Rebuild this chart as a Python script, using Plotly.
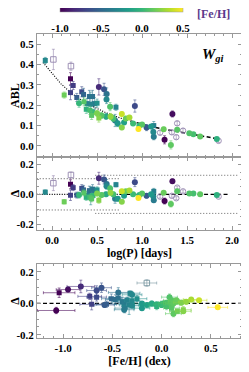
import plotly.graph_objects as go
from plotly.colors import sample_colorscale

# ---------------- data ----------------
logP = [-0.075, 0.205, 0.235, 0.205, 0.135, 0.275, 0.33, 0.35, 0.415, 0.45,
        0.39, 0.43, 0.47, 0.355, 0.42, 0.52, 0.71, 0.52, 0.578, 0.607,
        0.605, 0.645, 0.70, 0.92, 1.337, 1.25, 1.32, 0.775, 0.775, 0.96,
        1.05, 1.13, 1.13, 1.125, 1.24, 1.39, 1.525, 1.57, 1.645, 1.83,
        0.45, 0.50, 0.55, 0.60, 0.65, 0.68, 0.82, 0.86, 0.73, 0.97,
        1.00, 0.80, 0.44, 0.50, 0.38, 0.30, 1.10, 0.90]
abl = [0.42, 0.33, 0.297, 0.262, 0.25, 0.238, 0.266, 0.253, 0.243, 0.243,
       0.208, 0.205, 0.208, 0.217, 0.175, 0.137, 0.19, 0.29, 0.278, 0.255,
       0.228, 0.193, 0.125, 0.196, 0.157, 0.03, 0.005, 0.157, 0.09, 0.083,
       0.09, 0.10, 0.045, 0.068, 0.082, 0.08, 0.062, 0.057, 0.046, 0.034,
       0.165, 0.16, 0.15, 0.145, 0.145, 0.135, 0.135, 0.14, 0.11, 0.10,
       0.105, 0.115, 0.15, 0.21, 0.18, 0.21, 0.095, 0.11]
abl_err = [0.015, 0.03, 0.02, 0.035, 0.015, 0.02, 0.025, 0.03, 0.03, 0.03,
           0.025, 0.06, 0.03, 0.02, 0.02, 0.02, 0.015, 0.04, 0.03, 0.03,
           0.02, 0.02, 0.03, 0.03, 0.015, 0.02, 0.02, 0.01, 0.01, 0.01,
           0.015, 0.02, 0.015, 0.01, 0.01, 0.01, 0.008, 0.008, 0.008, 0.008,
           0.015, 0.015, 0.015, 0.015, 0.015, 0.015, 0.01, 0.01, 0.015, 0.01,
           0.01, 0.01, 0.02, 0.02, 0.02, 0.02, 0.01, 0.01]
delta = [0.015, 0.068, 0.045, -0.006, -0.05, -0.005, 0.04, 0.03, 0.025, 0.035,
         -0.005, -0.01, 0.01, 0.01, -0.02, -0.04, 0.065, 0.108, 0.10, 0.07,
         0.055, 0.04, -0.03, 0.082, 0.088, -0.045, -0.065, 0.02, -0.05, -0.025,
         -0.01, 0.02, -0.04, -0.015, 0.01, 0.02, 0.005, 0.005, 0.0, -0.005,
         -0.01, 0.005, -0.005, 0.0, 0.01, 0.0, 0.02, 0.025, -0.03, -0.005,
         0.005, -0.01, -0.03, 0.03, -0.02, -0.005, 0.0, 0.0]
feh = [-0.30, -1.04, -0.73, -0.71, 0.16, -0.56, -0.66, -0.51, -0.47, -0.44,
       -0.38, -0.33, -0.40, 0.10, 0.05, 0.22, -0.32, -0.82, -0.61, -0.44,
       -0.30, 0.08, -0.374, -0.66, -0.95, -1.07, 0.12, 0.38, 0.22, 0.57,
       -0.58, -0.35, -0.38, -0.30, 0.15, 0.10, 0.08, 0.05, 0.12, -0.05,
       0.00, 0.20, 0.10, -0.10, 0.25, 0.05, 0.15, 0.30, -0.20, 0.00,
       0.10, -0.15, 0.10, -0.25, -0.05, 0.00, -0.20, 0.02]
feh_err = [0.08, 0.16, 0.12, 0.12, 0.08, 0.1, 0.1, 0.1, 0.1, 0.1,
           0.1, 0.1, 0.1, 0.08, 0.08, 0.08, 0.1, 0.14, 0.1, 0.1,
           0.1, 0.08, 0.1, 0.1, 0.12, 0.19, 0.08, 0.08, 0.08, 0.1,
           0.1, 0.1, 0.1, 0.1, 0.08, 0.08, 0.08, 0.08, 0.08, 0.08,
           0.08, 0.08, 0.08, 0.08, 0.08, 0.08, 0.08, 0.08, 0.08, 0.08,
           0.08, 0.08, 0.08, 0.1, 0.08, 0.08, 0.08, 0.08]
shape = ["s", "s", "s", "s", "s", "s", "s", "s", "s", "s",
         "s", "s", "s", "s", "s", "s", "s", "c", "c", "c",
         "c", "c", "c", "c", "c", "c", "c", "c", "c", "c",
         "c", "s", "c", "c", "c", "c", "c", "c", "c", "c",
         "c", "c", "c", "c", "c", "c", "c", "c", "c", "c",
         "c", "c", "s", "s", "s", "c", "c", "c"]

# stars drawn with open symbols
open_logP = [0.015, 0.21, 1.39, 1.455, 1.33, 1.38, 1.20, 1.85]
open_abl = [0.425, 0.392, 0.111, 0.075, 0.067, 0.043, 0.065, 0.025]
open_abl_err = [0.05, 0.02, 0.01, 0.01, 0.01, 0.01, 0.01, 0.008]
open_delta = [0.075, 0.13, 0.045, 0.02, -0.01, -0.026, -0.015, -0.015]
open_feh = [None, -0.15, None, None, None, None, None, None]
open_feh_err = [None, 0.1, None, None, None, None, None, None]
open_shape = ["s", "s", "c", "c", "c", "c", "c", "c"]

# relation drawn in the top panel
fit_logP_dotted = [-0.1, 0.0, 0.1, 0.2, 0.3, 0.4, 0.5, 0.6, 0.7, 0.8]
fit_abl_dotted = [0.41, 0.355, 0.305, 0.265, 0.232, 0.205, 0.182, 0.163, 0.146, 0.131]
fit_logP_dashed = [0.8, 0.9, 1.0, 1.1, 1.2, 1.3, 1.4, 1.5, 1.6, 1.7, 1.8, 1.85]
fit_abl_dashed = [0.131, 0.118, 0.106, 0.095, 0.086, 0.078, 0.07, 0.062, 0.054, 0.046, 0.038, 0.034]

# dispersion bands in the residual panel
sig_short, sig_short_x = 0.105, [-0.17, 0.76]
sig_long, sig_long_x = 0.128, [0.48, 2.07]

feh_ticks = [-1.0, -0.5, 0.0, 0.5]
feh_ticktext = ["-1.0", "-0.5", "0.0", "0.5"]

# ---------------- styling ----------------
FONT = "Liberation Serif"
OPEN_COL = "rgba(150,135,175,0.9)"
CMIN, CMAX = -1.0, 0.5


def fe_color(f, alpha=None):
    t = min(max((f - CMIN) / (CMAX - CMIN), 0.0), 1.0)
    c = sample_colorscale("Viridis", [t])[0]
    if alpha is None:
        return c
    return c.replace("rgb(", "rgba(").replace(")", ",%s)" % alpha)


fig = go.Figure()


def sym(s, is_open=False):
    base = "square" if s == "s" else "circle"
    return base + ("-open" if is_open else "")


# top panel lines
fig.add_trace(go.Scatter(x=fit_logP_dotted, y=fit_abl_dotted, mode="lines",
                         line=dict(color="black", width=1.2, dash="1px,1.5px"),
                         xaxis="x", yaxis="y", showlegend=False, hoverinfo="skip"))
fig.add_trace(go.Scatter(x=fit_logP_dashed, y=fit_abl_dashed, mode="lines",
                         line=dict(color="black", width=1.5, dash="4px,2.5px"),
                         xaxis="x", yaxis="y", showlegend=False, hoverinfo="skip"))

# residual panel reference lines
fig.add_trace(go.Scatter(x=[sig_short_x[0], 0.75], y=[0, 0], mode="lines",
                         line=dict(color="black", width=1.3, dash="1px,1.5px"),
                         xaxis="x2", yaxis="y2", showlegend=False, hoverinfo="skip"))
fig.add_trace(go.Scatter(x=[0.75, 1.95], y=[0, 0], mode="lines",
                         line=dict(color="black", width=1.4, dash="4px,2.5px"),
                         xaxis="x2", yaxis="y2", showlegend=False, hoverinfo="skip"))
for s in (sig_short, -sig_short):
    fig.add_trace(go.Scatter(x=sig_short_x, y=[s, s], mode="lines",
                             line=dict(color="#555", width=1, dash="1px,2px"),
                             xaxis="x2", yaxis="y2", showlegend=False, hoverinfo="skip"))
for s in (sig_long, -sig_long):
    fig.add_trace(go.Scatter(x=sig_long_x, y=[s, s], mode="lines",
                             line=dict(color="#666", width=1, dash="1px,2px"),
                             xaxis="x2", yaxis="y2", showlegend=False, hoverinfo="skip"))
# bottom panel zero line
fig.add_trace(go.Scatter(x=[-1.27, 0.82], y=[0, 0], mode="lines",
                         line=dict(color="black", width=1.4, dash="4px,2.5px"),
                         xaxis="x3", yaxis="y3", showlegend=False, hoverinfo="skip"))

# open-symbol stars
for i in range(len(open_logP)):
    m = dict(symbol=sym(open_shape[i], True), size=5.5, color=OPEN_COL, line=dict(width=1, color=OPEN_COL))
    eb = dict(type="data", array=[open_abl_err[i]], color="rgba(150,135,175,0.6)", thickness=1, width=1.5)
    fig.add_trace(go.Scatter(x=[open_logP[i]], y=[open_abl[i]], mode="markers", marker=m,
                             error_y=eb, xaxis="x", yaxis="y", showlegend=False))
    fig.add_trace(go.Scatter(x=[open_logP[i]], y=[open_delta[i]], mode="markers", marker=m,
                             error_y=eb, xaxis="x2", yaxis="y2", showlegend=False))
    if open_feh[i] is not None:
        ebx = dict(type="data", array=[open_feh_err[i]], color="rgba(120,150,160,0.6)", thickness=1, width=1.5)
        m3 = dict(symbol=sym(open_shape[i], True), size=5.5, color="rgba(120,150,160,0.9)",
                  line=dict(width=1, color="rgba(120,150,160,0.9)"))
        fig.add_trace(go.Scatter(x=[open_feh[i]], y=[open_delta[i]], mode="markers", marker=m3,
                                 error_y=dict(eb, color="rgba(120,150,160,0.6)"), error_x=ebx,
                                 xaxis="x3", yaxis="y3", showlegend=False))

# filled stars, drawn with the most metal-rich on top
order = sorted(range(len(logP)), key=lambda k: feh[k])
for i in order:
    col = fe_color(feh[i])
    ecol = fe_color(feh[i], 0.55)
    size = 5 if shape[i] == "s" else 6
    m = dict(symbol=sym(shape[i]), size=size, color=col, line=dict(width=0))
    eb = dict(type="data", array=[abl_err[i]], color=ecol, thickness=1, width=1.5)
    fig.add_trace(go.Scatter(x=[logP[i]], y=[abl[i]], mode="markers", marker=m,
                             error_y=eb, xaxis="x", yaxis="y", showlegend=False))
    fig.add_trace(go.Scatter(x=[logP[i]], y=[delta[i]], mode="markers", marker=m,
                             error_y=eb, xaxis="x2", yaxis="y2", showlegend=False))
    ebx = dict(type="data", array=[feh_err[i]], color=ecol, thickness=1, width=1.5)
    fig.add_trace(go.Scatter(x=[feh[i]], y=[delta[i]], mode="markers", marker=m,
                             error_y=eb, error_x=ebx, xaxis="x3", yaxis="y3", showlegend=False))

# colour bar holder
fig.add_trace(go.Scatter(
    x=[None], y=[None], mode="markers", xaxis="x", yaxis="y", showlegend=False,
    marker=dict(color=[0], colorscale="Viridis", cmin=CMIN, cmax=CMAX, showscale=True,
                colorbar=dict(orientation="h", x=0.412, xanchor="center", y=1.089, yanchor="top",
                              len=0.6, lenmode="fraction", thickness=5, xpad=0, ypad=0,
                              tickvals=feh_ticks, ticktext=feh_ticktext,
                              ticks="outside", ticklen=7, tickcolor="rgba(0,0,0,0)", tickwidth=1,
                              outlinewidth=0.5, outlinecolor="#999",
                              tickfont=dict(family=FONT, size=11, color="black", weight="bold")))))

tickfont = dict(family=FONT, size=11, color="black", weight="bold")
titlefont = dict(family=FONT, size=12, color="black", weight="bold")
common = dict(showline=True, linecolor="#999", linewidth=1, mirror="allticks",
              ticks="inside", ticklen=4, tickcolor="#999", showgrid=False, zeroline=False,
              tickfont=tickfont, automargin=False)

xt = [0.0, 0.5, 1.0, 1.5, 2.0]
xtt = ["0.0", "0.5", "1.0", "1.5", "2.0"]

# the page adds an 8px body margin; the figure is sized so the plot area lands
# on the same window pixels as the reference
fig.update_layout(
    width=241, height=364, plot_bgcolor="white", paper_bgcolor="white",
    margin=dict(l=29, r=7, t=26, b=34, autoexpand=False), showlegend=False,
    xaxis=dict(common, domain=[0, 1], anchor="y", range=[-0.167, 2.11], tickvals=xt,
               showticklabels=False, minor=dict(ticks="inside", ticklen=2, dtick=0.1, tickcolor="#999")),
    yaxis=dict(common, domain=[0.595, 1], anchor="x", range=[-0.055, 0.55],
               tickvals=[0, 0.1, 0.2, 0.3, 0.4, 0.5], ticktext=["0.0", "0.1", "0.2", "0.3", "0.4", "0.5"],
               minor=dict(ticks="inside", ticklen=2, dtick=0.05, tickcolor="#999"),
               title=dict(text="ABL", font=titlefont, standoff=4)),
    xaxis2=dict(common, domain=[0, 1], anchor="y2", range=[-0.167, 2.11], tickvals=xt, ticktext=xtt,
                minor=dict(ticks="inside", ticklen=2, dtick=0.1, tickcolor="#999"),
                title=dict(text="log(P) [days]", font=titlefont, standoff=2)),
    yaxis2=dict(common, domain=[0.355, 0.595], anchor="x2", range=[-0.24, 0.25],
                tickvals=[-0.2, 0.0, 0.2], ticktext=["-0.2", "0.0", "0.2"],
                minor=dict(ticks="inside", ticklen=2, dtick=0.05, tickcolor="#999"),
                title=dict(text="Δ", font=titlefont, standoff=4)),
    xaxis3=dict(common, domain=[0, 1], anchor="y3", range=[-1.265, 0.816],
                tickvals=feh_ticks, ticktext=feh_ticktext,
                minor=dict(ticks="inside", ticklen=2, dtick=0.1, tickcolor="#999"),
                title=dict(text="[Fe/H] (dex)", font=titlefont, standoff=2)),
    yaxis3=dict(common, domain=[0, 0.243], anchor="x3", range=[-0.22, 0.25],
                tickvals=[-0.2, 0.0, 0.2], ticktext=["-0.2", "0.0", "0.2"],
                minor=dict(ticks="inside", ticklen=2, dtick=0.05, tickcolor="#999"),
                title=dict(text="Δ", font=titlefont, standoff=4)),
    annotations=[
        dict(text="[Fe/H]", xref="paper", yref="paper", x=0.859, y=1.066, showarrow=False,
             xanchor="center", yanchor="middle",
             font=dict(family=FONT, size=12, color="#5b3a8c", weight="bold")),
        dict(text="<i>W</i><sub><i>gi</i></sub>", xref="paper", yref="paper", x=0.86, y=0.93,
             showarrow=False, xanchor="center", yanchor="middle",
             font=dict(family=FONT, size=15, color="black", weight="bold")),
    ],
)

fig.write_html("out.html")
